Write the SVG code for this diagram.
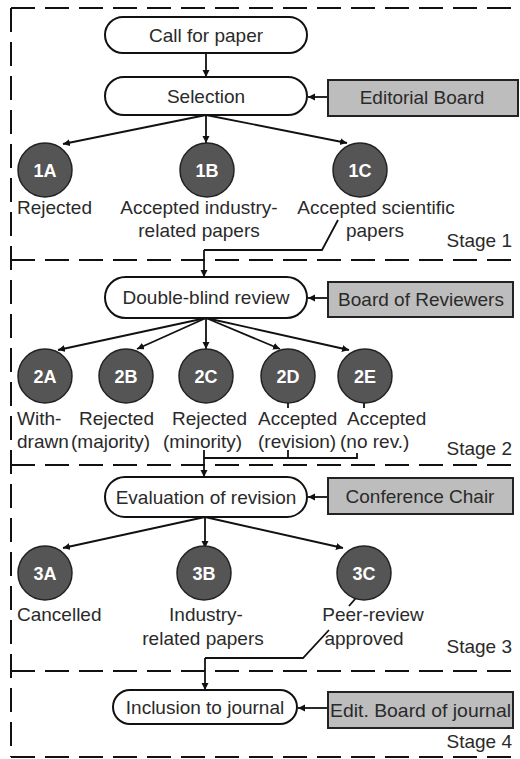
<svg xmlns="http://www.w3.org/2000/svg" width="520" height="759" viewBox="0 0 520 759">
<defs>
<marker id="ah" markerUnits="userSpaceOnUse" markerWidth="8" markerHeight="8" refX="7" refY="3.5" orient="auto">
<path d="M0,0 L7,3.5 L0,7 Z" fill="#111"/>
</marker>
<style>
text{font-family:"Liberation Sans",Arial,sans-serif;font-size:19px;fill:#2a2a2a}
.c{text-anchor:middle}
.r{text-anchor:end}
.pill{fill:#fff;stroke:#111;stroke-width:2}
.box{fill:#bdbdbd;stroke:#222;stroke-width:2}
.dot{fill:#555;stroke:#222;stroke-width:1.5}
.dl{font-weight:bold;font-size:18px;fill:#fff;text-anchor:middle}
.dash{fill:none;stroke:#111;stroke-width:2;stroke-dasharray:24 10}
.ln{fill:none;stroke:#111;stroke-width:1.8}
.arr{fill:none;stroke:#111;stroke-width:1.8;marker-end:url(#ah)}
</style>
</defs>
<rect width="520" height="759" fill="#fff"/>

<g id="frame">
<path class="dash" d="M11,8 H520"/>
<path class="dash" d="M11,8 V757"/>
<path class="dash" d="M11,757 H520"/>
<path class="dash" d="M11,260 H520"/>
<path class="dash" d="M11,465 H520"/>
<path class="dash" d="M11,671 H520"/>
<text class="r" x="512" y="247">Stage 1</text>
<text class="r" x="512" y="455">Stage 2</text>
<text class="r" x="512" y="653">Stage 3</text>
<text class="r" x="512" y="748">Stage 4</text>
</g>

<g id="connectors">
<path class="arr" d="M206,53 V77"/>
<path class="arr" d="M327,97 H308"/>
<path class="arr" d="M206,115 L63,144"/>
<path class="arr" d="M206,115 V143"/>
<path class="arr" d="M206,115 L347,143"/>
<path class="ln" d="M338,220 L322,250 H204"/>
<path class="arr" d="M204,250 V277"/>
<path class="arr" d="M327,298 H308"/>
<path class="arr" d="M206,318 L58,350"/>
<path class="arr" d="M206,318 L137,349"/>
<path class="arr" d="M206,318 V349"/>
<path class="arr" d="M206,318 L280,349"/>
<path class="arr" d="M206,318 L349,350"/>
<path class="ln" d="M288,402 V408 M364,402 V408"/>
<path class="ln" d="M204,450 V458 H357 V453 M288,450 V458"/>
<path class="arr" d="M204,458 V477"/>
<path class="arr" d="M327,497 H308"/>
<path class="arr" d="M205,517 L63,548"/>
<path class="arr" d="M205,517 V548"/>
<path class="arr" d="M205,517 L343,548"/>
<path class="ln" d="M356,598 L349,606"/>
<path class="ln" d="M329,630 L303,658 H205"/>
<path class="arr" d="M205,658 V690"/>
<path class="arr" d="M327,708 H298"/>
</g>

<g id="call"><rect class="pill" x="105" y="17" width="202" height="36" rx="18"/><text class="c" x="206" y="42">Call for paper</text></g>
<g id="selection"><rect class="pill" x="105" y="77" width="202" height="38" rx="19"/><text class="c" x="206" y="103">Selection</text></g>
<g id="editorial"><rect class="box" x="328" y="80" width="190" height="36"/><text class="c" x="422" y="104">Editorial Board</text></g>

<g id="n1A"><circle class="dot" cx="45" cy="170" r="27"/><text class="dl" x="45" y="177">1A</text><text x="17" y="214">Rejected</text></g>
<g id="n1B"><circle class="dot" cx="207" cy="170" r="27"/><text class="dl" x="207" y="177">1B</text><text class="c" x="199" y="214">Accepted industry-</text><text class="c" x="199" y="237">related papers</text></g>
<g id="n1C"><circle class="dot" cx="360" cy="170" r="27"/><text class="dl" x="360" y="177">1C</text><text class="c" x="376" y="214">Accepted scientific</text><text class="c" x="375" y="237">papers</text></g>

<g id="review"><rect class="pill" x="105" y="277" width="202" height="41" rx="20.5"/><text class="c" x="206" y="304">Double-blind review</text></g>
<g id="reviewers"><rect class="box" x="328" y="282" width="185" height="35"/><text class="c" x="421" y="306">Board of Reviewers</text></g>

<g id="n2A"><circle class="dot" cx="45" cy="376" r="27"/><text class="dl" x="45" y="383">2A</text><text x="17" y="425">With-</text><text x="17" y="448">drawn</text></g>
<g id="n2B"><circle class="dot" cx="126" cy="376" r="27"/><text class="dl" x="126" y="383">2B</text><text x="79" y="425">Rejected</text><text x="71" y="448">(majority)</text></g>
<g id="n2C"><circle class="dot" cx="206" cy="376" r="27"/><text class="dl" x="206" y="383">2C</text><text x="172" y="425">Rejected</text><text x="163" y="448">(minority)</text></g>
<g id="n2D"><circle class="dot" cx="288" cy="376" r="27"/><text class="dl" x="288" y="383">2D</text><text x="258" y="425">Accepted</text><text x="258" y="448">(revision)</text></g>
<g id="n2E"><circle class="dot" cx="365" cy="376" r="27"/><text class="dl" x="365" y="383">2E</text><text x="347" y="425">Accepted</text><text x="340" y="448">(no rev.)</text></g>

<g id="evaluation"><rect class="pill" x="105" y="477" width="202" height="40" rx="20"/><text class="c" x="206" y="504">Evaluation of revision</text></g>
<g id="chair"><rect class="box" x="328" y="478" width="185" height="36"/><text class="c" x="420" y="503">Conference Chair</text></g>

<g id="n3A"><circle class="dot" cx="45" cy="573" r="27"/><text class="dl" x="45" y="580">3A</text><text x="17" y="621">Cancelled</text></g>
<g id="n3B"><circle class="dot" cx="204" cy="573" r="27"/><text class="dl" x="204" y="580">3B</text><text class="c" x="206" y="621">Industry-</text><text class="c" x="203" y="645">related papers</text></g>
<g id="n3C"><circle class="dot" cx="364" cy="573" r="27"/><text class="dl" x="364" y="580">3C</text><text class="c" x="373" y="621">Peer-review</text><text class="c" x="364" y="645">approved</text></g>

<g id="inclusion"><rect class="pill" x="113" y="690" width="184" height="34" rx="17"/><text class="c" x="205" y="714">Inclusion to journal</text></g>
<g id="editjournal"><rect class="box" x="328" y="692" width="185" height="36"/><text x="330" y="717" textLength="181" lengthAdjust="spacingAndGlyphs">Edit. Board of journal</text></g>
</svg>
